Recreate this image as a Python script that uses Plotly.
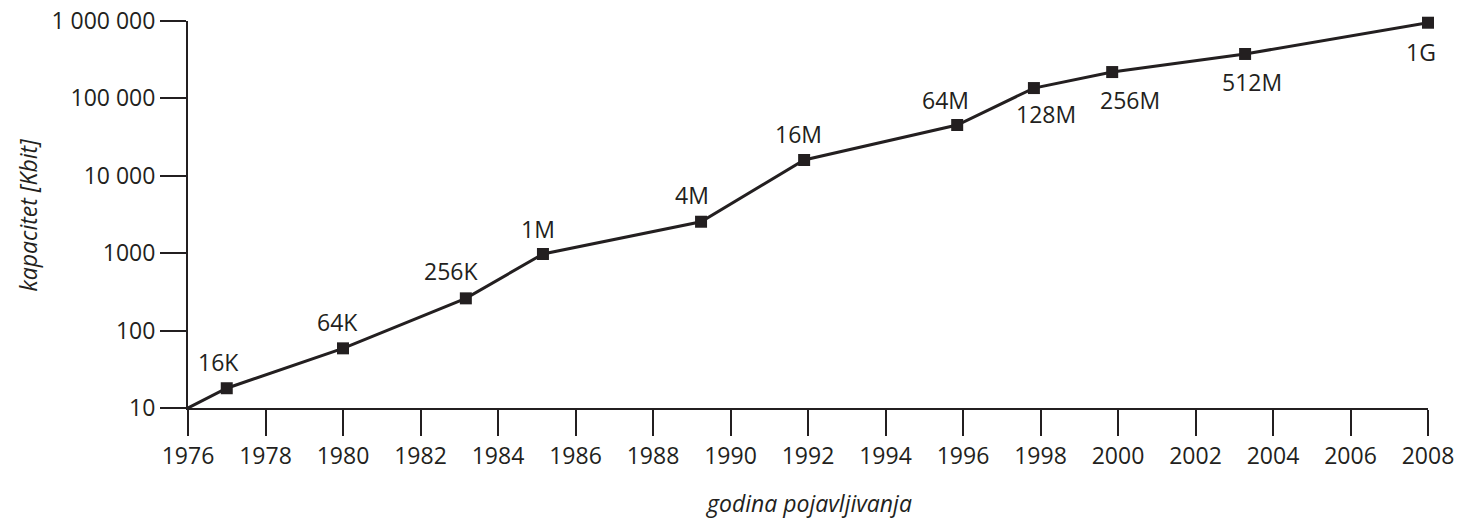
import plotly.graph_objects as go
import math

# Data
years = [1977.0, 1980.0, 1983.17, 1985.16, 1989.24, 1991.9, 1995.85, 1997.83, 1999.85, 2003.28, 2008.0]
capacity_kbit = [18, 59, 261, 977, 2550, 16000, 45300, 136000, 219000, 375000, 950000]
chip_labels = ["16K", "64K", "256K", "1M", "4M", "16M", "64M", "128M", "256M", "512M", "1G"]
origin_year = [1976]
origin_value = [10]

y_tickvals = [10, 100, 1000, 10000, 100000, 1000000]
y_ticktext = ["10", "100", "1000", "10 000", "100 000", "1 000 000"]
x_tickvals = list(range(1976, 2009, 2))

# label placement offsets (pixels) relative to markers
label_dx = [-8, -6, -15, -5, -9, -6, -12, 12, 18, 7, -7]
label_dy = [26, 26, 27, 25, 27, 26, 25, -26, -28, -28, -29]

FONT = "Open Sans"
INK = "#231f20"
FS = 23

fig = go.Figure()
fig.add_trace(go.Scatter(
    x=origin_year + years, y=origin_value + capacity_kbit,
    mode="lines", line=dict(color=INK, width=3), showlegend=False,
    hoverinfo="skip", cliponaxis=False,
))
fig.add_trace(go.Scatter(
    x=years, y=capacity_kbit, mode="markers",
    marker=dict(symbol="square", size=12, color=INK),
    showlegend=False, cliponaxis=False,
))

for xv, yv, lab, dx, dy in zip(years, capacity_kbit, chip_labels, label_dx, label_dy):
    fig.add_annotation(
        x=xv, y=math.log10(yv), xref="x", yref="y", text=lab,
        showarrow=False, xshift=dx, yshift=dy,
        xanchor="center", yanchor="middle",
        font=dict(family=FONT, size=FS, color=INK),
    )

# axis titles
fig.add_annotation(
    x=0, y=0.5, xref="paper", yref="paper", xshift=-161,
    text="<i>kapacitet [Kbit]</i>", textangle=-90, showarrow=False,
    xanchor="center", yanchor="middle",
    font=dict(family=FONT, size=FS, color=INK),
)
fig.add_annotation(
    x=0.5, y=0, xref="paper", yref="paper", yshift=-95,
    text="<i>godina pojavljivanja</i>", showarrow=False,
    xanchor="center", yanchor="middle",
    font=dict(family=FONT, size=FS, color=INK),
)

fig.update_layout(
    width=1454, height=512,
    margin=dict(l=180, r=34, t=13, b=112, autoexpand=False),
    paper_bgcolor="white", plot_bgcolor="white",
    font=dict(family=FONT, size=FS, color=INK),
    xaxis=dict(
        range=[1976, 2008], tickvals=x_tickvals, ticktext=[str(v) for v in x_tickvals],
        showgrid=False, zeroline=False, showline=True, linecolor=INK, linewidth=2,
        ticks="outside", ticklen=26, tickwidth=2, tickcolor=INK,
        tickfont=dict(family=FONT, size=FS, color=INK),
        ticklabeloverflow="allow", automargin=False,
    ),
    yaxis=dict(
        type="log", range=[1, 6], tickvals=y_tickvals, ticktext=y_ticktext,
        showgrid=False, zeroline=False, showline=True, linecolor=INK, linewidth=2,
        ticks="outside", ticklen=26, tickwidth=2, tickcolor=INK,
        tickfont=dict(family=FONT, size=FS, color=INK),
        ticklabeloverflow="allow", automargin=False,
    ),
)

fig.write_html("out.html")
